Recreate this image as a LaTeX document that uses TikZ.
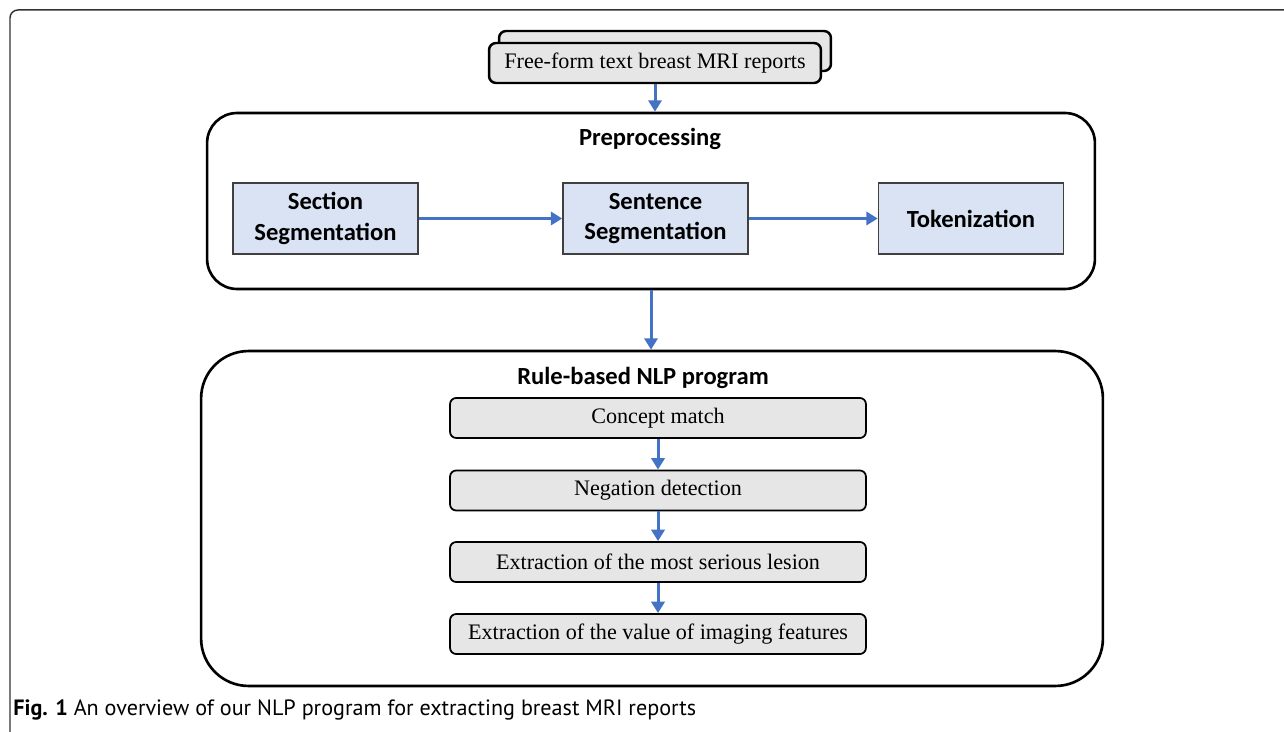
\documentclass[tikz,border=0pt]{standalone}
\usepackage{fontspec}
\setmainfont{Liberation Serif}
\newfontfamily\carl{Carlito}
\newfontfamily\capfont{PT Sans}
\usetikzlibrary{arrows.meta}
\definecolor{arrblue}{HTML}{4472C4}
\definecolor{bluefill}{HTML}{DAE3F3}
\definecolor{grayfill}{HTML}{E7E6E6}
\tikzset{
  conn/.style={draw=arrblue, line width=1.7pt, -{Triangle[width=7.5pt,length=6.5pt]}},
  bluebox/.style={draw=black!75, line width=0.9pt, fill=bluefill, minimum width=3.7cm, minimum height=1.42cm, align=center, font=\carl\bfseries\fontsize{14}{17.5}\selectfont, inner sep=0pt},
  graybox/.style={draw=black, line width=1pt, fill=grayfill, rounded corners=3.5pt, minimum width=8.32cm, minimum height=0.8cm, font=\fontsize{12.6}{15}\selectfont, inner sep=0pt},
  bigbox/.style={draw=black, line width=1.5pt, inner sep=0pt},
  heading/.style={font=\carl\bfseries\fontsize{14}{17}\selectfont, inner sep=0pt},
  reportbox/.style={draw=black, line width=1.4pt, fill=grayfill, rounded corners=4pt, minimum width=6.64cm, minimum height=0.8cm, font=\fontsize{12.6}{15}\selectfont, inner sep=0pt}
}
\begin{document}
\begin{tikzpicture}[x=0.02cm, y=-0.02cm]
\useasboundingbox (0,0) rectangle (1284,732);
% outer frame
\draw[black!80, line width=0.85pt, rounded corners=4.5pt] (10,732) -- (10,10) -- (1284,10);
% big containers
\node[bigbox, rounded corners=0.6cm, minimum width=17.76cm, minimum height=3.52cm] (pre) at (651,201) {};
\node[bigbox, rounded corners=0.95cm, minimum width=18.04cm, minimum height=6.7cm] (rule) at (652,518.5) {};
% report stack
\node[reportbox] (back) at (665,51) {};
\node[reportbox] (rep) at (655,63) {Free-form text breast MRI reports};
% headings
\node[heading] (preh) at (650,139) {Preprocessing};
\node[heading] (ruleh) at (643,378) {Rule-based NLP program};
% preprocessing steps
\node[bluebox] (sec) at (325.5,218.5) {Section\\Segmentation};
\node[bluebox] (sen) at (655.5,218.5) {Sentence\\Segmentation};
\node[bluebox] (tok) at (971,218.5) {Tokenization};
% rule steps
\node[graybox] (c1) at (658,418) {Concept match};
\node[graybox] (c2) at (658,490.5) {Negation detection};
\node[graybox] (c3) at (658,562) {Extraction of the most serious lesion};
\node[graybox] (c4) at (658,634) {Extraction of the value of imaging features};
% connectors
\draw[conn] (rep.south) -- (rep.south |- pre.north);
\draw[conn] (sec.east) -- (sen.west);
\draw[conn] (sen.east) -- (tok.west);
\draw[conn] (pre.south) -- (pre.south |- rule.north);
\draw[conn] (c1.south) -- (c2.north);
\draw[conn] (c2.south) -- (c3.north);
\draw[conn] (c3.south) -- (c4.north);
% caption
\node[anchor=west, inner sep=0pt, font=\capfont\fontsize{12.6}{15}\selectfont] (cap) at (13,710) {\textbf{Fig. 1} An overview of our NLP program for extracting breast MRI reports};
\end{tikzpicture}
\end{document}
